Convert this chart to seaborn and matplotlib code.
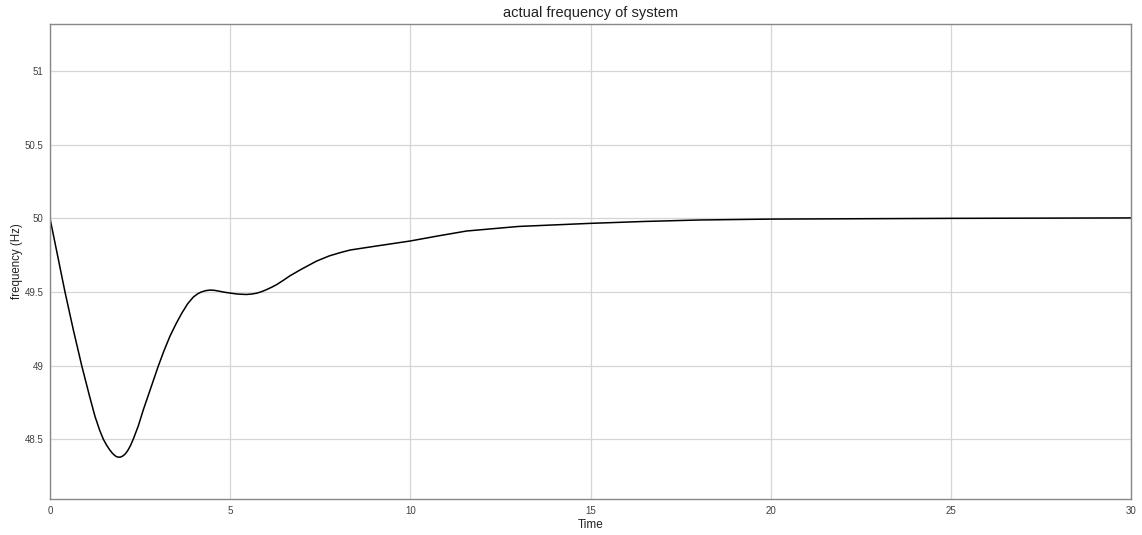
import numpy as np
import pandas as pd
import matplotlib
matplotlib.use("Agg")
import matplotlib.pyplot as plt
import seaborn as sns

# values
time = [0, 0.2, 0.416, 0.65, 0.88, 1.1, 1.25, 1.38, 1.48, 1.57, 1.65, 1.72, 1.78,
        1.84, 1.9, 1.96, 2.02, 2.08, 2.15, 2.23, 2.31, 2.45, 2.59, 2.8, 3.01,
        3.17, 3.33, 3.5, 3.66, 3.82, 3.98, 4.1, 4.2, 4.32, 4.44, 4.57, 4.7,
        4.85, 4.99, 5.2, 5.45, 5.6, 5.74, 5.87, 6.0, 6.15, 6.29, 6.48, 6.66,
        6.98, 7.4, 7.75, 8.05, 8.33, 9.0, 9.99, 10.8, 11.56, 13.0, 14.99,
        16.5, 18.04, 20, 25, 30]
freq = [50.0, 49.76, 49.5, 49.24, 49.0, 48.79, 48.654, 48.56, 48.5, 48.46, 48.43,
        48.408, 48.393, 48.382, 48.378, 48.379, 48.386, 48.398, 48.42, 48.455,
        48.5, 48.59, 48.70, 48.85, 49.0, 49.105, 49.2, 49.285, 49.357, 49.42,
        49.466, 49.488, 49.50, 49.509, 49.513, 49.511, 49.505, 49.498, 49.493,
        49.486, 49.483, 49.486, 49.492, 49.502, 49.515, 49.532, 49.55, 49.58,
        49.61, 49.655, 49.71, 49.745, 49.767, 49.785, 49.81, 49.846, 49.882,
        49.914, 49.945, 49.966, 49.979, 49.989, 49.995, 50.0, 50.003]

x_ticks = [0, 5, 10, 15, 20, 25, 30]
y_ticks = [48.5, 49, 49.5, 50, 50.5, 51]
y_labels = ["48.5", "49", "49.5", "50", "50.5", "51"]

df = pd.DataFrame({"Time": time, "frequency": freq})

sns.set_theme(style="whitegrid")
plt.rcParams["font.family"] = ["Liberation Sans", "DejaVu Sans"]

fig = plt.figure(figsize=(11.42, 5.35), dpi=100)
ax = fig.add_axes([50 / 1142, 36 / 535, 1081 / 1142, 475 / 535])

sns.lineplot(data=df, x="Time", y="frequency", color="black", linewidth=1.1, ax=ax)

ax.set_xlim(0, 30)
ax.set_ylim(48.094, 51.32)
ax.set_xticks(x_ticks)
ax.set_xticklabels([str(v) for v in x_ticks])
ax.set_yticks(y_ticks)
ax.set_yticklabels(y_labels)

ax.grid(True, color="#d6d6d6", linewidth=0.9)
for s in ax.spines.values():
    s.set_visible(True)
    s.set_color("#888888")
    s.set_linewidth(1.0)

ax.tick_params(axis="both", direction="in", length=5, width=0.8, color="#555555",
               labelsize=7, labelcolor="#404040")
ax.tick_params(axis="y", pad=4.5)
ax.tick_params(axis="x", pad=5)

ax.set_xlabel("Time", fontsize=8.5, color="#222222", labelpad=2)
ax.set_ylabel("frequency (Hz)", fontsize=8.3, color="#222222", labelpad=1)
ax.set_title("actual frequency of system", fontsize=10.5, color="#222222", pad=5)

fig.savefig("out.png", dpi=100)
